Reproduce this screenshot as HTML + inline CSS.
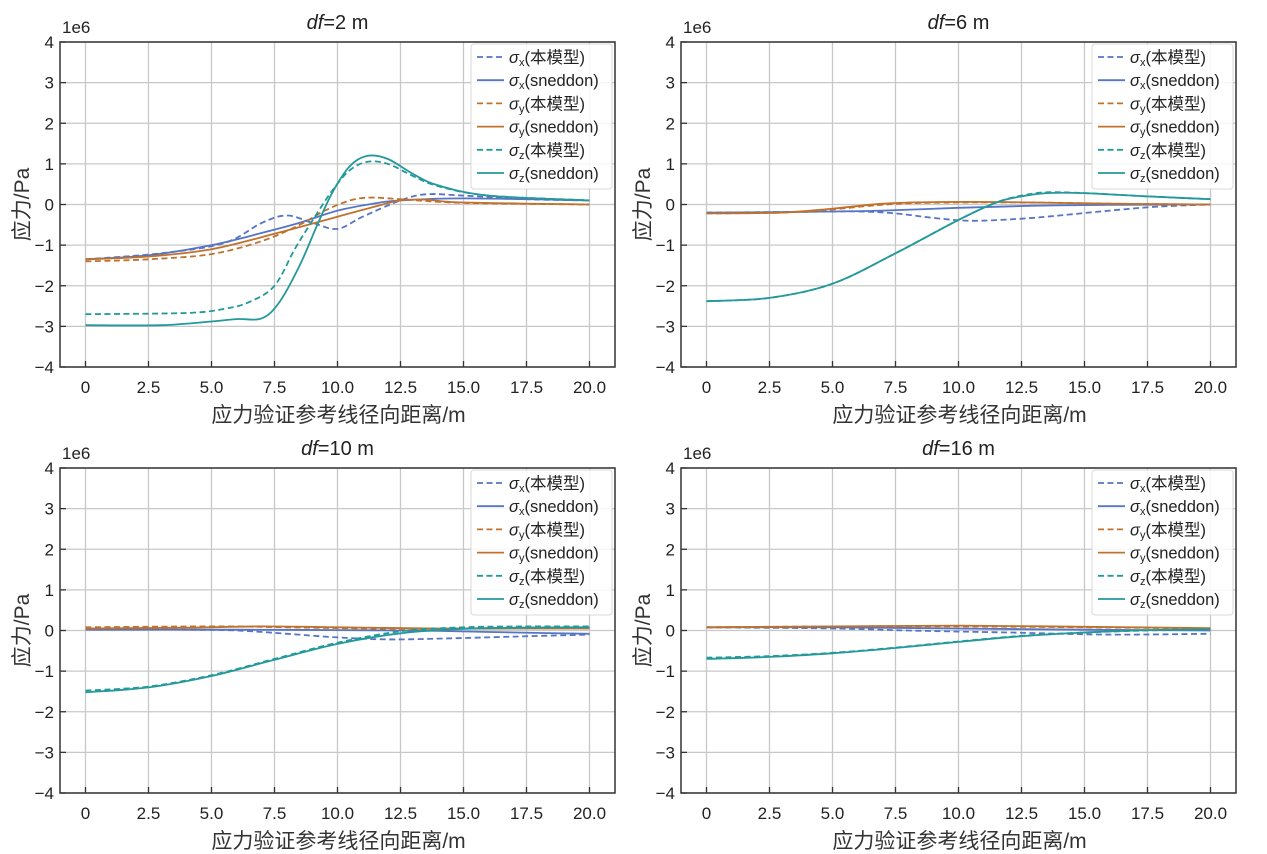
<!DOCTYPE html>
<html><head><meta charset="utf-8"><style>
body{margin:0;background:#fff;}
svg{display:block;font-family:"Liberation Sans","Noto Sans CJK SC",sans-serif;}
</style></head><body>
<svg id="s" width="1267" height="854" xmlns="http://www.w3.org/2000/svg"></svg>
<script>
const S=document.getElementById('s');
const C={x:'#5675c4',y:'#c0722d',z:'#23999a'};
const panels=[
 {ox:60,oy:42,df:'2',
  d:{x:[[0,-1.35],[3,-1.2],[5.5,-0.95],[7,-0.45],[8,-0.27],[9,-0.45],[10,-0.6],[11,-0.3],[12.5,0.1],[13.5,0.25],[15,0.22],[17.5,0.13],[20,0.1]],
     y:[[0,-1.4],[2.5,-1.35],[5,-1.22],[7,-0.9],[8.5,-0.5],[9.5,-0.15],[10.5,0.1],[11.3,0.17],[12.5,0.13],[15,0.04],[20,0]],
     z:[[0,-2.7],[4,-2.67],[5.5,-2.57],[6.5,-2.4],[7.5,-2.0],[8.3,-1.1],[9,-0.4],[9.8,0.35],[10.5,0.85],[11.2,1.05],[12,1.0],[13,0.7],[14,0.45],[16,0.22],[20,0.1]]},
  s:{x:[[0,-1.35],[2.5,-1.25],[5,-1.0],[7,-0.7],[8.5,-0.45],[10,-0.15],[11.5,0.03],[12.5,0.1],[15,0.15],[20,0.1]],
     y:[[0,-1.35],[2.5,-1.28],[5,-1.1],[7.5,-0.72],[10,-0.3],[11.5,-0.05],[12.5,0.1],[13.5,0.12],[15,0.05],[20,0]],
     z:[[0,-2.97],[3,-2.97],[5,-2.88],[6,-2.82],[7,-2.8],[7.7,-2.4],[8.5,-1.5],[9.2,-0.5],[9.8,0.3],[10.5,0.95],[11.2,1.2],[12,1.12],[13,0.75],[14,0.47],[16,0.22],[20,0.1]]}},
 {ox:681,oy:42,df:'6',
  d:{x:[[0,-0.2],[4,-0.18],[6,-0.17],[7.5,-0.22],[9,-0.33],[10.5,-0.4],[12.5,-0.35],[14,-0.27],[16,-0.15],[18,-0.05],[20,0]],
     y:[[0,-0.22],[3,-0.2],[5,-0.12],[6.5,-0.03],[8,0.03],[10,0.05],[13,0.05],[16,0.02],[20,0]],
     z:[[0,-2.38],[2.5,-2.3],[5,-1.95],[7.5,-1.2],[10,-0.38],[11.5,0.05],[12.5,0.22],[13.5,0.3],[15,0.28],[17.5,0.2],[20,0.13]]},
  s:{x:[[0,-0.2],[4,-0.18],[7,-0.15],[10,-0.08],[13,-0.03],[16,-0.01],[20,0]],
     y:[[0,-0.22],[3,-0.2],[5,-0.1],[7,0.02],[9,0.06],[12,0.06],[16,0.02],[20,0]],
     z:[[0,-2.38],[2.5,-2.3],[5,-1.95],[7.5,-1.2],[10,-0.38],[11.5,0.05],[12.5,0.2],[13.5,0.28],[15,0.28],[17.5,0.2],[20,0.13]]}},
 {ox:60,oy:468,df:'10',
  d:{x:[[0,0.05],[4,0.02],[6,0],[8,-0.08],[10,-0.17],[12,-0.22],[14,-0.2],[17,-0.15],[20,-0.1]],
     y:[[0,0.08],[5,0.1],[8,0.08],[11,0.05],[14,0.04],[17,0.07],[20,0.08]],
     z:[[0,-1.48],[2.5,-1.38],[5,-1.1],[7.5,-0.7],[10,-0.3],[12.5,-0.02],[15,0.08],[17.5,0.1],[20,0.1]]},
  s:{x:[[0,0.02],[6,0.02],[10,0.01],[14,-0.01],[17,-0.05],[20,-0.08]],
     y:[[0,0.05],[4,0.07],[7,0.1],[10,0.08],[14,0.05],[17,0.05],[20,0.05]],
     z:[[0,-1.52],[2.5,-1.4],[5,-1.12],[7.5,-0.72],[10,-0.33],[12.5,-0.07],[15,0.04],[17.5,0.07],[20,0.08]]}},
 {ox:681,oy:468,df:'16',
  d:{x:[[0,0.08],[5,0.05],[8,0],[12,-0.05],[16,-0.1],[20,-0.08]],
     y:[[0,0.08],[5,0.1],[10,0.1],[15,0.08],[20,0.05]],
     z:[[0,-0.67],[2.5,-0.63],[5,-0.55],[7.5,-0.42],[10,-0.27],[12.5,-0.13],[15,-0.05],[17.5,0.0],[20,0.02]]},
  s:{x:[[0,0.08],[5,0.08],[10,0.05],[15,0.02],[20,0]],
     y:[[0,0.08],[5,0.1],[10,0.12],[15,0.09],[20,0.06]],
     z:[[0,-0.7],[2.5,-0.65],[5,-0.56],[7.5,-0.43],[10,-0.28],[12.5,-0.14],[15,-0.05],[17.5,0.01],[20,0.03]]}}
];
let h='';
function cr(pts,X,Y){
 let p=pts.map(q=>[X(q[0]),Y(q[1])]);
 let d='M'+p[0][0].toFixed(1)+','+p[0][1].toFixed(1);
 for(let i=0;i<p.length-1;i++){
  let p0=p[Math.max(i-1,0)],p1=p[i],p2=p[i+1],p3=p[Math.min(i+2,p.length-1)];
  let c1=[p1[0]+(p2[0]-p0[0])/6,p1[1]+(p2[1]-p0[1])/6];
  let c2=[p2[0]-(p3[0]-p1[0])/6,p2[1]-(p3[1]-p1[1])/6];
  d+=`C${c1[0].toFixed(1)},${c1[1].toFixed(1)} ${c2[0].toFixed(1)},${c2[1].toFixed(1)} ${p2[0].toFixed(1)},${p2[1].toFixed(1)}`;
 }
 return d;
}
for(const P of panels){
 const W=555,H=325,ox=P.ox,oy=P.oy;
 const X=v=>ox+25.5+v*25.2, Y=v=>oy+162.5-v*40.625;
 for(let i=0;i<=8;i++){const v=i*2.5,x=X(v);
  h+=`<line x1="${x}" y1="${oy}" x2="${x}" y2="${oy+H}" stroke="#c8c8c8" stroke-width="1.3"/>`;
  h+=`<line x1="${x}" y1="${oy+H}" x2="${x}" y2="${oy+H-6}" stroke="#333" stroke-width="1.3"/>`;
  h+=`<text x="${x}" y="${oy+H+26}" font-size="17" text-anchor="middle" fill="#222">${v==0?'0':v.toFixed(1)}</text>`;}
 for(let v=-4;v<=4;v++){const y=Y(v);
  h+=`<line x1="${ox}" y1="${y}" x2="${ox+W}" y2="${y}" stroke="#c8c8c8" stroke-width="1.3"/>`;
  h+=`<line x1="${ox}" y1="${y}" x2="${ox+6}" y2="${y}" stroke="#333" stroke-width="1.3"/>`;
  h+=`<text x="${ox-6}" y="${y+6}" font-size="17" text-anchor="end" fill="#222">${v<0?'−'+(-v):v}</text>`;}
 h+=`<text x="${ox+2}" y="${oy-9}" font-size="17" fill="#222">1e6</text>`;
 h+=`<text x="${ox+W/2}" y="${oy-13}" font-size="20" text-anchor="middle" fill="#222"><tspan font-style="italic">df</tspan>=${P.df} m</text>`;
 h+=`<text x="${ox+W/2+1}" y="${oy+H+55}" font-size="21" text-anchor="middle" fill="#333">应力验证参考线径向距离/m</text>`;
 h+=`<text transform="translate(${ox-31},${oy+H/2}) rotate(-90)" font-size="21" text-anchor="middle" fill="#333">应力/Pa</text>`;
 for(const k of ['x','y','z']){
  h+=`<path d="${cr(P.s[k],X,Y)}" fill="none" stroke="${C[k]}" stroke-width="1.8"/>`;
  h+=`<path d="${cr(P.d[k],X,Y)}" fill="none" stroke="${C[k]}" stroke-width="1.8" stroke-dasharray="6,3.5"/>`;
 }
 const lx=ox+W-144, ly=oy+2;
 h+=`<rect x="${lx}" y="${ly}" width="141" height="145" rx="3" fill="#fff" fill-opacity="0.85" stroke="#d8d8d8"/>`;
 const items=[['x','本模型',1],['x','sneddon',0],['y','本模型',1],['y','sneddon',0],['z','本模型',1],['z','sneddon',0]];
 items.forEach((it,i)=>{const yy=ly+13+i*23.2;
  h+=`<line x1="${lx+6}" y1="${yy}" x2="${lx+33}" y2="${yy}" stroke="${C[it[0]]}" stroke-width="1.8" ${it[2]?'stroke-dasharray="6,3.5"':''}/>`;
  h+=`<text x="${lx+38}" y="${yy+6}" font-size="16.5" fill="#222"><tspan font-style="italic">σ</tspan><tspan font-size="11" dy="3">${it[0]}</tspan><tspan dy="-3">(${it[1]})</tspan></text>`;
 });
 h+=`<rect x="${ox}" y="${oy}" width="${W}" height="${H}" fill="none" stroke="#333" stroke-width="1.5"/>`;
}
S.innerHTML=h;
</script>
</body></html>
